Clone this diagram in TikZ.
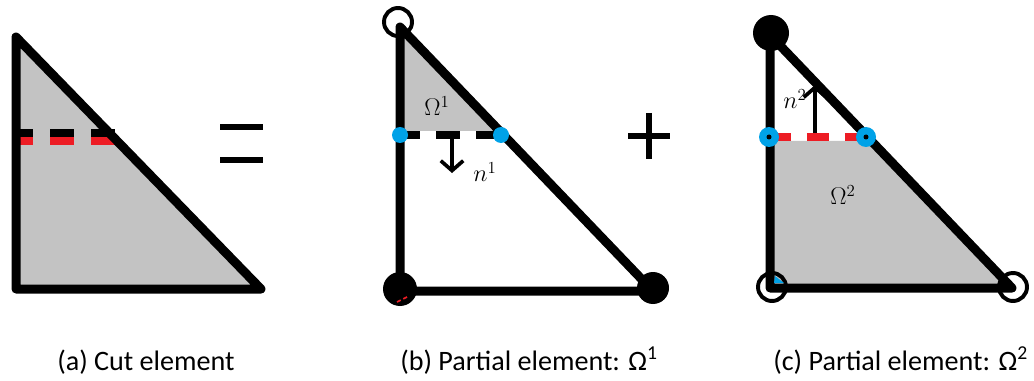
\documentclass[tikz,border=0pt]{standalone}
\usepackage{fontspec}
\setmainfont{Carlito}
\usetikzlibrary{arrows.meta}

\definecolor{paintgray}{RGB}{195,195,195}
\definecolor{paintred}{RGB}{237,28,36}
\definecolor{paintblue}{RGB}{0,162,232}

\tikzset{
  rand/.style={line width=6.4pt, line join=round},
  ring/.style={line width=2.8pt},
  teken/.style={line width=4.3pt},
  normaal/.style={-{Straight Barb[length=7pt,width=16pt]}, line width=2.6pt},
  mathlabel/.style={font=\fontsize{18}{20}\selectfont, inner sep=0pt},
  onderschrift/.style={anchor=base west, font=\fontsize{20}{24}\selectfont, inner sep=0pt}
}

\begin{document}
\begin{tikzpicture}[x=0.025cm, y=-0.025cm]
  \useasboundingbox (0,0) rectangle (1034,381);

  % (a) Cut element
  \coordinate (A1) at (16,37);
  \coordinate (A2) at (16,289);
  \coordinate (A3) at (261,289);
  \coordinate (AL) at (16,133);
  \coordinate (AR) at (118,133);
  \coordinate (ALr) at (16,141);
  \coordinate (ARr) at (122,141);

  \fill[paintgray] (A1) -- (A2) -- (A3) -- cycle;
  \draw[line width=5.7pt, dash pattern=on 17.1pt off 12.1pt, dash phase=5pt] (AL) -- (AR);
  \draw[paintred, line width=5pt, dash pattern=on 17.1pt off 12.1pt, dash phase=5pt] (ALr) -- (ARr);
  \draw[rand] (A1) -- (A2) -- (A3) -- cycle;

  % Is-teken
  \coordinate (E1) at (220,127);
  \coordinate (E2) at (263,127);
  \coordinate (E3) at (220,160);
  \coordinate (E4) at (263,160);
  \draw[teken] (E1) -- (E2);
  \draw[teken] (E3) -- (E4);

  % (b) Partial element Omega^1
  \coordinate (B1) at (400,27);
  \coordinate (B2) at (400,291);
  \coordinate (B3) at (653,291);
  \coordinate (BgL) at (400,131);
  \coordinate (BgR) at (500,131);
  \coordinate (BL) at (400,135);
  \coordinate (BR) at (501,135);
  \coordinate (Bn0) at (452,137);
  \coordinate (Bn1) at (452,173);

  \fill[paintgray] (B1) -- (BgL) -- (BgR) -- cycle;
  \draw[line width=5.7pt, dash pattern=on 17.1pt off 11.4pt, dash phase=2.8pt] (BL) -- (BR);
  \draw[ring] (398,22) circle (14);
  \fill (400,289) circle (17);
  \fill (653,288) circle (16);
  \draw[paintred, line width=1.2pt, dash pattern=on 3pt off 2pt] (397,302) -- (409,296);
  \draw[rand] (B1) -- (B2) -- (B3) -- cycle;
  \fill[paintblue] (BL) circle (8);
  \fill[paintblue] (BR) circle (8);
  \draw[normaal] (Bn0) -- (Bn1);
  \node[mathlabel] (om1) at (437,106) {$\Omega^1$};
  \node[mathlabel] (n1) at (485,172) {$n^1$};

  % Plusteken
  \coordinate (P1) at (628,136);
  \coordinate (P2) at (670,136);
  \coordinate (P3) at (649,113);
  \coordinate (P4) at (649,159);
  \draw[teken] (P1) -- (P2);
  \draw[teken] (P3) -- (P4);

  % (c) Partial element Omega^2
  \coordinate (C1) at (770,35);
  \coordinate (C2) at (770,288);
  \coordinate (C3) at (1012,288);
  \coordinate (CgL) at (770,141);
  \coordinate (CgR) at (873,141);
  \coordinate (CL) at (769,137);
  \coordinate (CR) at (866,137);
  \coordinate (Cn0) at (815,133);
  \coordinate (Cn1) at (815,85);

  \fill[paintgray] (CgL) -- (C2) -- (C3) -- (CgR) -- cycle;
  \draw[paintred, line width=5pt, dash pattern=on 15.6pt off 11.4pt] (CL) -- (CR);
  \fill (771,33) circle (18);
  \draw[ring] (772,287) circle (14);
  \draw[ring] (1013,287) circle (14);
  \draw[rand] (C1) -- (C2) -- (C3) -- cycle;
  \fill[paintblue] (775,276) -- (784,283) -- (774,283) -- cycle;
  \fill[paintblue] (CL) circle (10);
  \fill[paintblue] (CR) circle (10);
  \fill (CL) circle (2.5);
  \fill (CR) circle (2.5);
  \draw[normaal] (Cn0) -- (Cn1);
  \node[mathlabel] (n2) at (795,99) {$n^2$};
  \node[mathlabel] (om2) at (843,195) {$\Omega^2$};

  % Onderschriften
  \node[onderschrift] (capa) at (57,370) {(a) Cut element};
  \node[onderschrift] (capb) at (400,370) {(b) Partial element: Ω\textsuperscript{1}};
  \node[onderschrift] (capc) at (773,370) {(c) Partial element: Ω\textsuperscript{2}};

\end{tikzpicture}
\end{document}
